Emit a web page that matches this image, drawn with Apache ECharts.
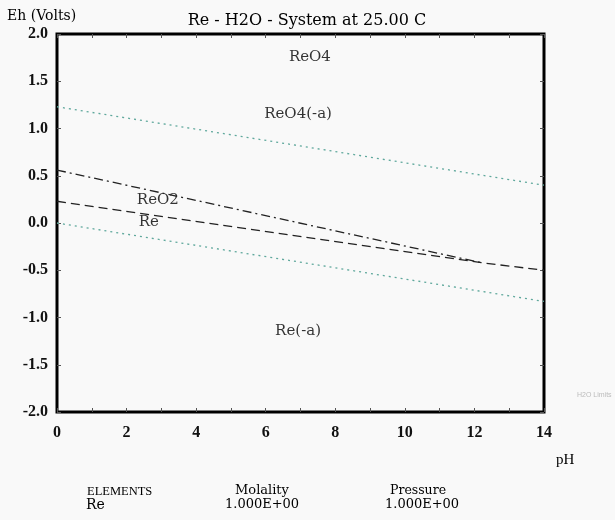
<!DOCTYPE html>
<html><head><meta charset="utf-8">
<script src="https://cdn.jsdelivr.net/npm/echarts@6/dist/echarts.min.js"></script>
<style>html,body{margin:0;padding:0;background:#f9f9f9}#c{width:615px;height:520px}</style>
</head><body><div id="c"></div>
<script>
// pH values and Eh (V) values
const h2oUpperPH = [0, 14];
const h2oUpperEh = [1.23, 0.40];
const h2oLowerPH = [0, 14];
const h2oLowerEh = [0.0, -0.83];
const reo2BoundPH = [0, 12.2];
const reo2BoundEh = [0.56, -0.42];
const reBoundPH = [0, 12.2, 14];
const reBoundEh = [0.23, -0.42, -0.50];
const regionNames = ['ReO4', 'ReO4(-a)', 'ReO2', 'Re', 'Re(-a)'];
const regionPH = [7.27, 6.93, 2.9, 2.64, 6.93];
const regionEh = [1.76, 1.15, 0.24, 0.01, -1.14];
const xTicks = [0, 2, 4, 6, 8, 10, 12, 14];
const yTicks = [-2.0, -1.5, -1.0, -0.5, 0.0, 0.5, 1.0, 1.5, 2.0];

const zip = (a, b) => a.map((v, i) => [v, b[i]]);
const serif = 'Liberation Serif';
const dserif = 'DejaVu Serif';
const chart = echarts.init(document.getElementById('c'), null, {renderer: 'canvas'});
const tick = {show: true, inside: true, length: 4, lineStyle: {color: '#555', width: 1}};
chart.setOption({
  backgroundColor: '#f9f9f9',
  animation: false,
  grid: {left: 57, right: 71, top: 34, bottom: 108, show: true, borderColor: '#000', borderWidth: 3, backgroundColor: 'transparent'},
  title: {text: 'Re - H2O - System at 25.00 C', left: 302, top: 8, textAlign: 'center',
    textStyle: {fontFamily: dserif, fontSize: 16, fontWeight: 'normal', color: '#000'}},
  xAxis: [
    {type: 'value', min: 0, max: 14, interval: 1, position: 'bottom',
      axisLine: {show: false, onZero: false}, splitLine: {show: false}, axisTick: tick,
      axisLabel: {show: true, margin: 13, fontFamily: serif, fontSize: 16, fontWeight: 'bold', color: '#111',
        formatter: v => xTicks.includes(v) ? String(v) : ''}},
    {type: 'value', min: 0, max: 14, interval: 1, position: 'top',
      axisLine: {show: false, onZero: false}, splitLine: {show: false}, axisTick: tick,
      axisLabel: {show: false}}
  ],
  yAxis: [
    {type: 'value', min: -2, max: 2, interval: 0.5, position: 'left',
      axisLine: {show: false, onZero: false}, splitLine: {show: false}, axisTick: tick,
      axisLabel: {margin: 9, fontFamily: serif, fontSize: 16, fontWeight: 'bold', color: '#111',
        formatter: v => yTicks.includes(v) ? v.toFixed(1) : ''}},
    {type: 'value', min: -2, max: 2, interval: 0.5, position: 'right',
      axisLine: {show: false, onZero: false}, splitLine: {show: false}, axisTick: tick,
      axisLabel: {show: false}}
  ],
  series: [
    {type: 'line', data: zip(h2oUpperPH, h2oUpperEh), symbol: 'none', silent: true,
      lineStyle: {color: '#5fa89c', width: 1.3, type: [2, 4]}},
    {type: 'line', data: zip(h2oLowerPH, h2oLowerEh), symbol: 'none', silent: true,
      lineStyle: {color: '#5fa89c', width: 1.3, type: [2, 4]}},
    {type: 'line', data: zip(reo2BoundPH, reo2BoundEh), symbol: 'none', silent: true,
      lineStyle: {color: '#222', width: 1.3, type: [9, 4, 2, 4]}},
    {type: 'line', data: zip(reBoundPH, reBoundEh), symbol: 'none', silent: true,
      lineStyle: {color: '#222', width: 1.3, type: [9, 5]}},
    {type: 'scatter', symbolSize: 0, silent: true,
      data: regionNames.map((n, i) => ({name: n, value: [regionPH[i], regionEh[i]]})),
      label: {show: true, position: 'inside', formatter: p => p.name,
        fontFamily: dserif, fontSize: 15, color: '#000', backgroundColor: '#f9f9f9', padding: [0, 1]}}
  ],
  graphic: [
    {type: 'text', left: 7, top: 9, style: {text: 'Eh (Volts)', font: '14px "DejaVu Serif"', fill: '#000'}},
    {type: 'text', left: 556, top: 453, style: {text: 'pH', font: '15px "Liberation Serif"', fill: '#000'}},
    {type: 'text', left: 577, top: 392, style: {text: 'H2O Limits', font: '7px "Liberation Sans"', fill: '#bbb'}},
    {type: 'text', left: 87, top: 485, style: {text: 'ELEMENTS', font: '12.5px "Liberation Serif"', fill: '#000'}},
    {type: 'text', left: 235, top: 484, style: {text: 'Molality', font: '13px "DejaVu Serif"', fill: '#000'}},
    {type: 'text', left: 390, top: 484, style: {text: 'Pressure', font: '12.5px "DejaVu Serif"', fill: '#000'}},
    {type: 'text', left: 86, top: 498, style: {text: 'Re', font: '14px "DejaVu Serif"', fill: '#000'}},
    {type: 'text', left: 225, top: 498, style: {text: '1.000E+00', font: '13px "DejaVu Serif"', fill: '#000'}},
    {type: 'text', left: 385, top: 498, style: {text: '1.000E+00', font: '13px "DejaVu Serif"', fill: '#000'}}
  ]
});
</script></body></html>
